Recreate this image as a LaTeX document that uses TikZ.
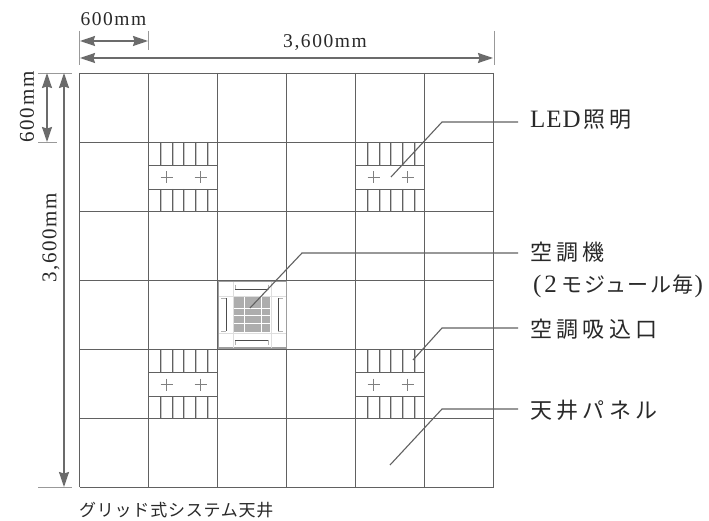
\documentclass[tikz,border=0pt]{standalone}
\usepackage{fontspec}
\setmainfont{Liberation Serif}
\newfontfamily\cjk[LetterSpace=20]{Noto Sans CJK JP}
\newfontfamily\cjkmid[LetterSpace=7]{Noto Sans CJK JP}
\newfontfamily\cjkcap[LetterSpace=4.5]{Noto Sans CJK JP}
\newfontfamily\dimfont[LetterSpace=8]{Liberation Serif}
\newfontfamily\labfont[LetterSpace=12]{Liberation Serif}
\usetikzlibrary{arrows.meta}
\definecolor{txt}{gray}{0.16}
\definecolor{gridc}{gray}{0.38}
\definecolor{darrow}{gray}{0.42}
\newcommand{\latinbig}{\fontsize{25}{28}\selectfont}
\tikzset{
  gridline/.style={draw=gridc,line width=0.9pt},
  thinline/.style={draw=gridc,line width=0.8pt},
  paleline/.style={draw=black!22,line width=0.9pt},
  dimline/.style={draw=darrow,line width=1.5pt,{Stealth[length=15pt,width=10pt,inset=1.5pt]}-{Stealth[length=15pt,width=10pt,inset=1.5pt]}},
  dimtick/.style={draw=gray!80,line width=0.8pt},
  leader/.style={draw=black!62,line width=1.1pt},
  lab/.style={anchor=west,text=txt,font=\fontsize{22}{28}\selectfont\cjk,inner sep=0pt,outer xsep=12pt,align=left},
  dimlab/.style={text=txt,font=\fontsize{19.5}{22}\selectfont\dimfont,inner sep=0pt},
  dimlabv/.style={text=txt,font=\fontsize{21}{22}\selectfont\dimfont,inner sep=0pt,rotate=90},
}
\newcommand{\ventmodule}[2]{%
  \begin{scope}[shift={(#1,#2)}]
    \foreach \vx in {12,24,35,47,59}{
      \draw[paleline,line width=1.4pt] (\vx+0.6,0) -- (\vx+0.6,23);
      \draw[thinline,line width=0.5pt] (\vx-0.4,0) -- (\vx-0.4,23);
      \draw[paleline,line width=1.4pt] (\vx+0.6,47) -- (\vx+0.6,69);
      \draw[thinline,line width=0.5pt] (\vx-0.4,47) -- (\vx-0.4,69);
    }
    \draw[thinline] (0,23) -- (69,23);
    \draw[thinline] (0,47) -- (69,47);
    \foreach \px in {18,52}{
      \draw[draw=black!50,line width=0.7pt] (\px-6,35.5) -- (\px+6,35.5);
      \draw[draw=black!50,line width=0.7pt] (\px,29.5) -- (\px,41.5);
    }
  \end{scope}}
\begin{document}
\begin{tikzpicture}[x=1pt,y=-1pt]
\useasboundingbox[fill=white] (0,0) rectangle (709,521);
% vent modules
\ventmodule{148.5}{142}
\ventmodule{355.5}{142}
\ventmodule{148.5}{349}
\ventmodule{355.5}{349}
% grid
\foreach \gx in {79.5,148.5,217.5,286.5,355.5,424.5,493.5}
  \draw[gridline] (\gx,73) -- (\gx,487);
\foreach \gy in {73,142,211,280,349,418,487}
  \draw[gridline] (79.5,\gy) -- (493.5,\gy);
% air conditioner
\draw[draw=black!38,line width=1.2pt,fill=white] (218.5,281.5) rectangle (286.5,348);
\draw[paleline,draw=black!13] (233,282) -- (233,348);
\draw[paleline,draw=black!13] (271,282) -- (271,348);
\draw[paleline,draw=black!13] (219,296) -- (286,296);
\draw[paleline,draw=black!13] (219,333) -- (286,333);
\fill[black!32] (234,297) rectangle (270,332);
\foreach \ux in {244,261}
  \draw[white,line width=1pt] (\ux,297) -- (\ux,332);
\foreach \uy in {308,315,323}
  \draw[white,line width=1pt] (234,\uy) -- (270,\uy);
\draw[draw=black!30,line width=0.6pt] (235,284.5) -- (235,289.5);
\draw[draw=black!30,line width=0.6pt] (268,284.5) -- (268,289.5);
\draw[draw=black!70,line width=0.9pt] (235,289) -- (268,289);
\draw[draw=black!30,line width=0.6pt] (235,340) -- (235,345);
\draw[draw=black!30,line width=0.6pt] (268,340) -- (268,345);
\draw[draw=black!70,line width=0.9pt] (235,340.5) -- (268,340.5);
\draw[draw=black!30,line width=0.6pt] (221,298) -- (226,298);
\draw[draw=black!30,line width=0.6pt] (221,331) -- (226,331);
\draw[draw=black!70,line width=0.9pt] (226,298) -- (226,331);
\draw[draw=black!30,line width=0.6pt] (278,298) -- (283,298);
\draw[draw=black!30,line width=0.6pt] (278,331) -- (283,331);
\draw[draw=black!70,line width=0.9pt] (278.5,298) -- (278.5,331);
% dimensions
\draw[dimtick] (79.5,31) -- (79.5,65);
\draw[dimtick] (148.5,31) -- (148.5,50);
\draw[dimtick] (494,31) -- (494,65);
\draw[dimtick] (38,73) -- (72,73);
\draw[dimtick] (38,142) -- (57,142);
\draw[dimtick] (38,487) -- (72,487);
\coordinate (t0) at (80,41);
\coordinate (t1) at (148,41);
\coordinate (w0) at (80,58);
\coordinate (w1) at (493,58);
\coordinate (l0) at (47,73);
\coordinate (l1) at (47,142);
\coordinate (h0) at (64,73);
\coordinate (h1) at (64,487);
\draw[dimline] (t0) -- (t1);
\draw[dimline] (w0) -- (w1);
\draw[dimline] (l0) -- (l1);
\draw[dimline] (h0) -- (h1);
\node[dimlab] (d600h) at (113.5,19) {600mm};
\node[dimlab] (d3600h) at (325,42.5) {3,600mm};
\node[dimlabv] (d600v) at (27,107) {600mm};
\node[dimlabv] (d3600v) at (51,238) {3,600mm};
% labels
\node[lab] (led) at (518,119.5) {{\latinbig\labfont L\hspace{1pt}E\hspace{1pt}D}\hspace{3pt}照明};
\node[lab] (ac1) at (518,252) {空調機};
\node[lab,font=\fontsize{21}{28}\selectfont\cjkmid] (ac2) at (521,286) {{\latinbig\rmfamily(}\hspace{3pt}{\latinbig\rmfamily 2}\hspace{5pt}モジュール毎\hspace{1pt}{\latinbig\rmfamily)}};
\node[lab] (inlet) at (518,329) {空調吸込口};
\node[lab] (panel) at (518,410) {天井パネル};
\node[anchor=west,text=txt,font=\fontsize{17}{20}\selectfont\cjkcap,inner sep=0pt] (cap) at (79,510) {グリッド式システム天井};
% leaders
\coordinate (p1) at (391,177);
\coordinate (e1) at (442,122);
\coordinate (p2) at (250,308);
\coordinate (e2) at (302,253);
\coordinate (p3) at (413,360);
\coordinate (e3) at (442,328);
\coordinate (p4) at (390,465);
\coordinate (e4) at (442,409);
\draw[leader] (p1) -- (e1) -- (e1 -| led.west);
\draw[leader] (p2) -- (e2) -- (e2 -| ac1.west);
\draw[leader] (p3) -- (e3) -- (e3 -| inlet.west);
\draw[leader] (p4) -- (e4) -- (e4 -| panel.west);
\end{tikzpicture}
\end{document}
